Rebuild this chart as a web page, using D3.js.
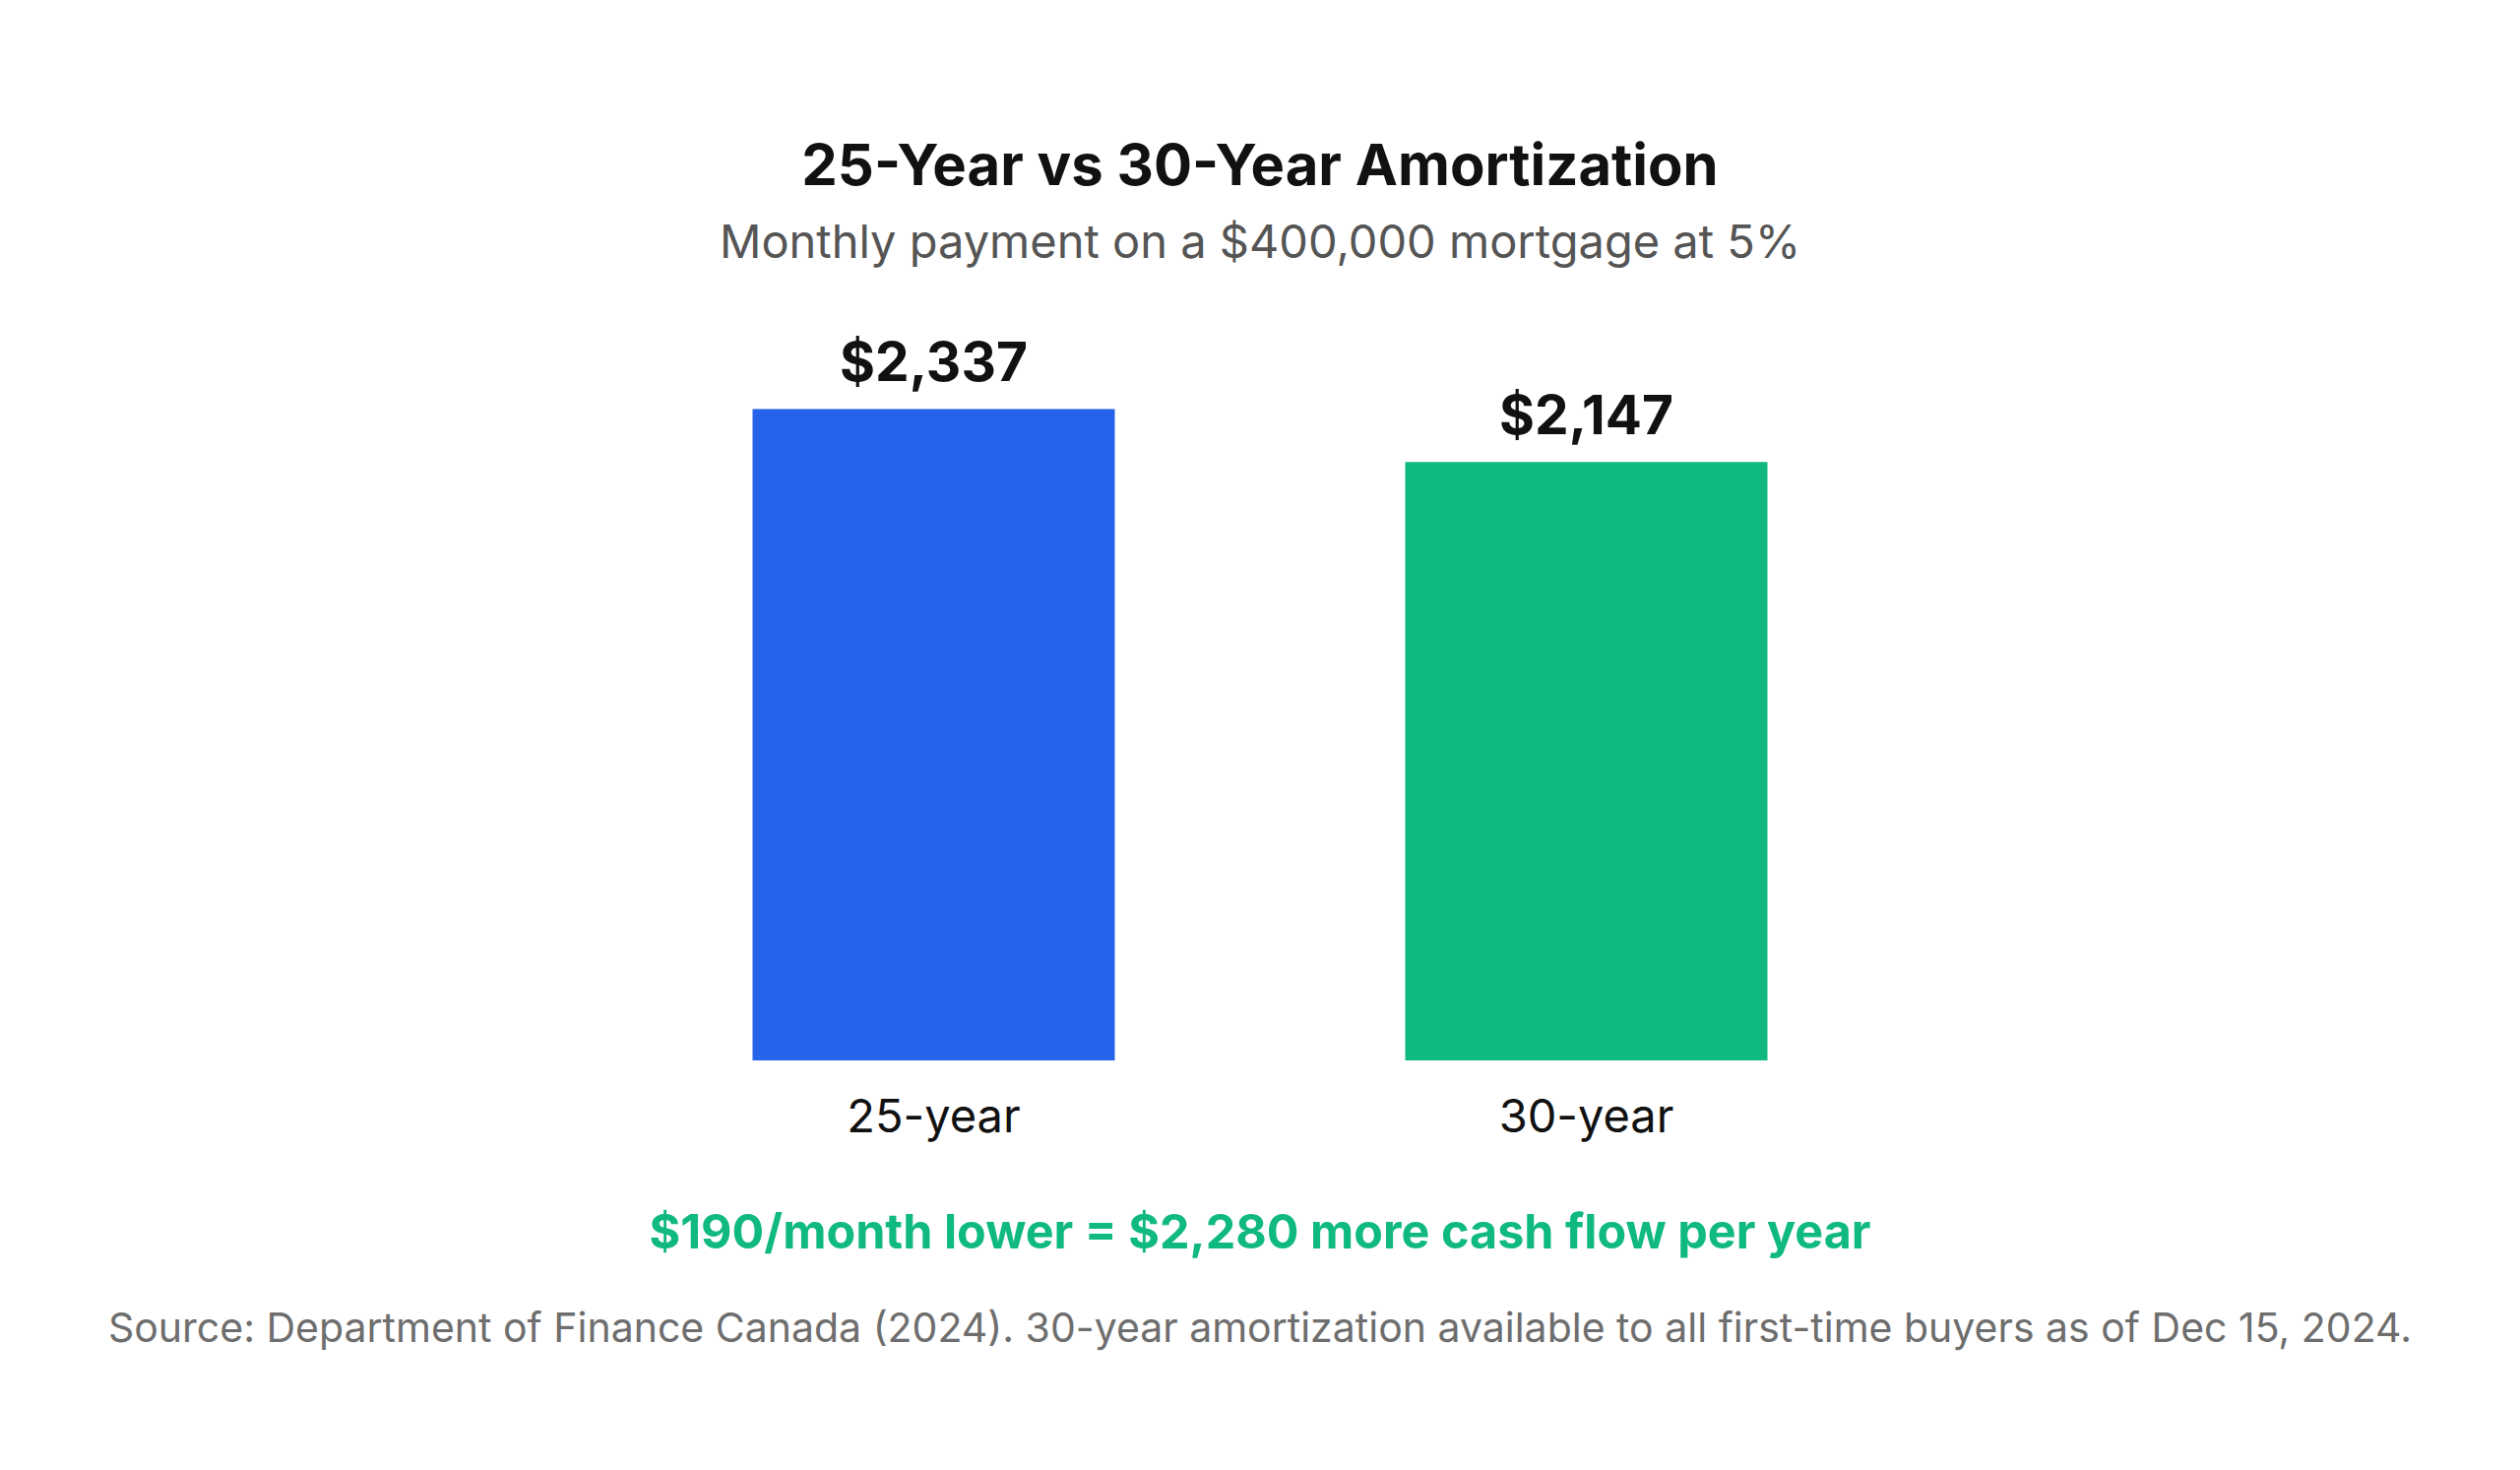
<!DOCTYPE html>
<html>
<head>
<meta charset="utf-8">
<script src="https://cdn.jsdelivr.net/npm/d3@7"></script>
<style>
  html, body { margin: 0; padding: 0; background: #fff; }
  svg { display: block; font-family: Inter, "Noto Sans", sans-serif; }
</style>
</head>
<body>
<div class="chart"></div>
<script>
// data
const categories = ["25-year", "30-year"];
const payments = [2337, 2147];
const barColors = ["#2563eb", "#10b981"];

const titleText = "25-Year vs 30-Year Amortization";
const subtitleText = "Monthly payment on a $400,000 mortgage at 5%";
const noteText = "$190/month lower = $2,280 more cash flow per year";
const sourceText = "Source: Department of Finance Canada (2024). 30-year amortization available to all first-time buyers as of Dec 15, 2024.";

let width = 2560,
  height = 1493,
  cx = 1280,
  baseY = 1077;

let svg = d3.select(".chart").append("svg")
  .attr("width", width)
  .attr("height", height);

let x = d3.scaleBand()
  .domain(categories)
  .range([433, 2127])
  .paddingInner(0.445)
  .paddingOuter(0.5);

let y = d3.scaleLinear()
  .domain([0, 2600])
  .range([baseY, 341]);

let fmt = d3.format("$,");

// title + subtitle
svg.append("text")
  .attr("x", cx)
  .attr("y", 188)
  .attr("text-anchor", "middle")
  .attr("font-size", 58)
  .attr("font-weight", 700)
  .attr("fill", "#111111")
  .text(titleText);

svg.append("text")
  .attr("x", cx)
  .attr("y", 262)
  .attr("text-anchor", "middle")
  .attr("font-size", 47)
  .attr("fill", "#555555")
  .text(subtitleText);

let data = categories.map((c, i) => ({ cat: c, value: payments[i], color: barColors[i] }));

// bars
svg.selectAll(".bar")
  .data(data)
  .enter().append("rect")
  .attr("class", "bar")
  .attr("x", (d) => x(d.cat))
  .attr("y", (d) => y(d.value))
  .attr("width", x.bandwidth())
  .attr("height", (d) => y(0) - y(d.value))
  .attr("fill", (d) => d.color);

// value labels
svg.selectAll(".value")
  .data(data)
  .enter().append("text")
  .attr("class", "value")
  .attr("x", (d) => x(d.cat) + x.bandwidth() / 2)
  .attr("y", (d) => y(d.value) - 28)
  .attr("text-anchor", "middle")
  .attr("font-size", 55)
  .attr("font-weight", 700)
  .attr("fill", "#111111")
  .text((d) => fmt(d.value));

// category axis, no line or ticks
let xAxis = svg.append("g")
  .attr("transform", "translate(0," + baseY + ")")
  .call(d3.axisBottom(x).tickSize(0).tickPadding(73));
xAxis.select(".domain").remove();
xAxis.selectAll("text")
  .attr("dy", 0)
  .attr("font-size", 47)
  .attr("fill", "#111111");
xAxis.attr("font-family", null).attr("font-size", null);

// note
svg.append("text")
  .attr("x", cx)
  .attr("y", 1268)
  .attr("text-anchor", "middle")
  .attr("font-size", 48.5)
  .attr("font-weight", 700)
  .attr("fill", "#10b981")
  .text(noteText);

// source
svg.append("text")
  .attr("x", cx)
  .attr("y", 1363)
  .attr("text-anchor", "middle")
  .attr("font-size", 41)
  .attr("fill", "#6e6e6e")
  .text(sourceText);
</script>
</body>
</html>
